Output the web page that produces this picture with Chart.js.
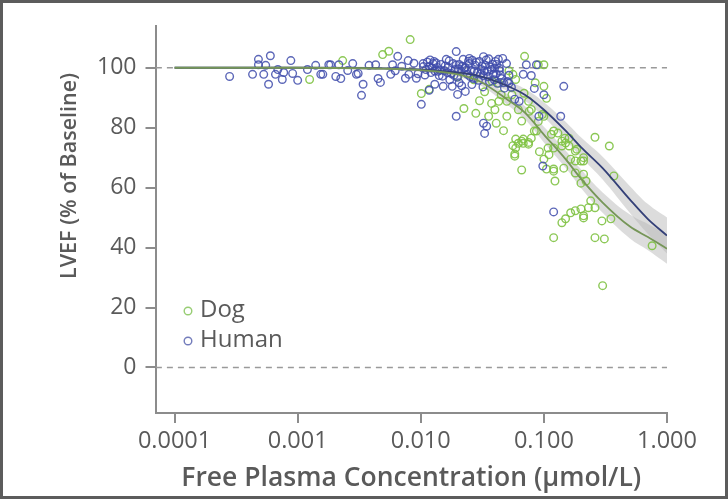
<!DOCTYPE html>
<html>
<head>
<meta charset="utf-8">
<script src="https://cdn.jsdelivr.net/npm/chart.js@4.4.1/dist/chart.umd.min.js"></script>
<style>
  html, body { margin: 0; padding: 0; background: #fff; }
  #frame { width: 728px; height: 499px; box-sizing: border-box; border: 3px solid #5c5c5c; background: #fff; }
  #frame canvas { display: block; }
</style>
</head>
<body>
<div id="frame"><canvas id="lvefChart" width="722" height="493"></canvas></div>
<script>
// Concentration (µmol/L) and LVEF (% of baseline) for each observation
const humanConc = [
  0.00028, 0.00048, 0.0006, 0.00048, 0.00055, 0.00043, 0.00053, 0.00058, 0.00069, 0.00066,
  0.00077, 0.00075, 0.00088, 0.00091, 0.0010, 0.0012, 0.0014, 0.00154, 0.00179, 0.0016,
  0.00185, 0.00204, 0.00216, 0.00224, 0.00255, 0.0028, 0.0030, 0.0031, 0.0034, 0.0033,
  0.0038, 0.0043, 0.0045, 0.0047, 0.0057, 0.0059, 0.0065, 0.0079, 0.0080, 0.0062,
  0.0070, 0.0075, 0.0088, 0.0095, 0.0092, 0.0105, 0.0101, 0.0117, 0.0126, 0.0138,
  0.0194, 0.0248, 0.0323, 0.013, 0.0152, 0.018, 0.0199, 0.023, 0.0194, 0.0323,
  0.0343, 0.033, 0.01045, 0.0110, 0.0117, 0.0121, 0.0128, 0.0136, 0.0141, 0.0146,
  0.0155, 0.0161, 0.0167, 0.0177, 0.0183, 0.0190, 0.0198, 0.0205, 0.0213, 0.0221,
  0.0230, 0.0239, 0.0248, 0.0257, 0.0267, 0.0277, 0.0288, 0.0299, 0.0310, 0.0322,
  0.0334, 0.0347, 0.0361, 0.0374, 0.0389, 0.0404, 0.0419, 0.0435, 0.0452, 0.0478,
  0.0506, 0.0545, 0.0150, 0.0172, 0.0205, 0.0226, 0.0262, 0.0294, 0.0315, 0.0356,
  0.0383, 0.0410, 0.0130, 0.0119, 0.0427, 0.0463, 0.0497, 0.0412, 0.0435, 0.072,
  0.087, 0.068, 0.079, 0.052, 0.0836, 0.145, 0.100, 0.058, 0.063, 0.091,
  0.137, 0.098, 0.120,
  0.0108, 0.0113, 0.0124, 0.0133, 0.0143, 0.0158, 0.0164, 0.0170, 0.0186, 0.0194,
  0.0202, 0.0217, 0.0235, 0.0244, 0.0252, 0.0272, 0.0283, 0.0305, 0.0328, 0.0340,
  0.0352, 0.0368, 0.0396, 0.0398, 0.0443, 0.0470, 0.0520, 0.0260, 0.0320, 0.0215
];
const humanLvef = [
  97.1, 102.8, 104, 101, 100.8, 97.8, 97.8, 94.5, 99.4, 97.8,
  98.4, 96.1, 102.4, 98.1, 95.8, 99.4, 100.8, 97.8, 101, 97.8,
  101, 97.1, 101, 96.4, 99.1, 101.4, 97.8, 98.1, 94.5, 90.8,
  100.8, 101, 96.4, 95.1, 97.8, 101, 103.8, 102.4, 97.8, 99,
  100.5, 96.5, 101.5, 98, 96.5, 100.4, 87.8, 92.5, 101.4, 98.8,
  105.4, 103.1, 103.7, 94.5, 93.8, 93.8, 91.1, 92.1, 83.8, 81.5,
  80.5, 78.1, 101.4, 99.4, 100.4, 98.4, 102.1, 100.1, 97.4, 101.1,
  99.1, 102.8, 100.1, 98.1, 101.4, 99.4, 96.8, 101.1, 98.8, 102.8,
  100.1, 97.8, 101.4, 99.1, 96.4, 100.8, 98.4, 102.1, 99.4, 97.4,
  100.8, 98.8, 95.4, 99.4, 97.8, 102.1, 94.8, 99.1, 96.4, 93.2,
  95.4, 93.5, 97.2, 96, 95, 99.8, 102.5, 95.8, 100.6, 103,
  101.2, 98, 98.9, 102.6, 102.8, 103.1, 101.4, 101.1, 99.8, 101,
  101, 97.8, 97.4, 94.8, 93.1, 93.8, 91, 89.5, 88.8, 83.8,
  83.8, 67.2, 51.9,
  97.6, 101.9, 99.9, 101.6, 99.2, 100.6, 98.4, 102.3, 97.5, 100.9,
  99.6, 100.5, 99.2, 102.2, 97.1, 98.9, 101.8, 97.9, 99.0, 102.6,
  97.0, 100.2, 96.0, 99.9, 97.6, 95.0, 97.5, 94.4, 93.6, 94.0
];

const dogConc = [
  0.00125, 0.00232, 0.0049, 0.0055, 0.0082, 0.0101, 0.0117, 0.0224, 0.028, 0.0356,
  0.0376, 0.020, 0.027, 0.033, 0.045, 0.038, 0.0697, 0.100, 0.056, 0.059,
  0.100, 0.043, 0.079, 0.100, 0.050, 0.041, 0.066, 0.087, 0.059, 0.068,
  0.079, 0.115, 0.130, 0.140, 0.160, 0.075, 0.056, 0.062, 0.068, 0.075,
  0.058, 0.066, 0.100, 0.105, 0.120, 0.123, 0.145, 0.120, 0.140, 0.150,
  0.165, 0.200, 0.180, 0.140, 0.150, 0.165, 0.180, 0.200, 0.210, 0.230,
  0.120, 0.260, 0.340, 0.180, 0.210, 0.370, 0.210, 0.220, 0.200, 0.240,
  0.260, 0.210, 0.296, 0.350, 0.260, 0.310, 0.757, 0.300, 0.108, 0.120,
  0.180, 0.090, 0.105, 0.076, 0.097, 0.090, 0.148, 0.160, 0.055, 0.043,
  0.050, 0.075, 0.0836, 0.120, 0.066, 0.059, 0.058, 0.185, 0.210,
  0.030, 0.040, 0.047, 0.062, 0.069, 0.085, 0.052, 0.092, 0.110
];
const dogLvef = [
  96.1, 102.4, 104.4, 105.5, 109.4, 91.4, 92.8, 86.4, 84.8, 83.8,
  88.1, 97, 96, 92, 91, 95.5, 103.8, 101, 97.8, 96.1,
  93.8, 88.8, 86.1, 83.8, 83.8, 81.5, 82.2, 78.9, 76.2, 76.2,
  76.5, 77.8, 78.2, 75.5, 76.5, 74.5, 74, 74.8, 74.8, 75.1,
  70.5, 65.9, 69.5, 66.2, 66.2, 62.2, 66.5, 73.2, 73.9, 74.9,
  69.5, 68.9, 64.9, 48.3, 49.6, 51.6, 52.3, 52.9, 50.6, 53.3,
  43.3, 76.8, 73.9, 72.2, 68.9, 63.9, 64.5, 62.2, 61.5, 55.6,
  53.3, 49.9, 48.9, 49.6, 43.3, 42.9, 40.6, 27.3, 73.2, 65.5,
  68.9, 101, 89.8, 85.5, 84.4, 82.1, 76.5, 73.9, 91, 94.8,
  88.8, 88.8, 78.9, 78.9, 75.5, 73.2, 71.2, 72.8, 70,
  89, 86, 79, 86, 91.5, 95, 99, 72, 71
];

// Fitted concentration-response curves with their confidence bands
const fitConc  = [0.0001, 0.001, 0.005, 0.01, 0.02, 0.03, 0.05, 0.07, 0.1, 0.15, 0.2, 0.3, 0.5, 0.7, 1.0];
const humanFit = [100, 100, 99.8, 99.4, 98.4, 97.2, 94, 91, 86, 79, 73.5, 66.5, 56, 49.5, 44];
const humanHi  = [100.3, 100.3, 100.2, 99.9, 99.2, 98.3, 95.6, 93, 88.5, 82, 76.8, 70.3, 60.5, 54.5, 50];
const humanLo  = [99.7, 99.7, 99.4, 98.9, 97.6, 96.1, 92.4, 89, 83.5, 76, 70.2, 62.7, 51.5, 44.5, 38];
const dogFit   = [100, 100, 99.7, 99.2, 97.8, 95.5, 89.5, 85, 77.7, 69.5, 63, 55, 47, 43.5, 39.6];
const dogHi    = [100.3, 100.3, 100.1, 99.8, 98.7, 96.7, 91.3, 87.2, 80.3, 72.4, 66.1, 58.4, 51, 47.9, 44.6];
const dogLo    = [99.7, 99.7, 99.3, 98.6, 96.9, 94.3, 87.7, 82.8, 75.1, 66.6, 59.9, 51.6, 43, 39.1, 34.6];

// Axes
const xMin = 0.0000705;
const xMax = 1.0;
const xTicks = [0.0001, 0.001, 0.01, 0.1, 1];
const xTickLabels = ['0.0001', '0.001', '0.010', '0.100', '1.000'];
const yTicks = [0, 20, 40, 60, 80, 100];
const refLevels = [100, 0];

const FONT = '"Open Sans", "Noto Sans", sans-serif';
const TEXT = '#5a5a5a';
const AXIS = '#8c8c8c';
const DOG = 'rgba(128, 194, 68, 0.9)';
const HUMAN = 'rgba(64, 76, 172, 0.85)';

function pts(xs, ys) {
    return xs.map((x, i) => ({ x: x, y: ys[i] }));
}

function band(hi, lo) {
    return [
        { data: pts(fitConc, hi), showLine: true, pointRadius: 0, borderWidth: 0,
          fill: '+1', backgroundColor: 'rgba(185, 185, 185, 0.5)', tension: 0.4, order: 6 },
        { data: pts(fitConc, lo), showLine: true, pointRadius: 0, borderWidth: 0,
          fill: false, tension: 0.4, order: 6 }
    ];
}

function fitLine(ys, color) {
    return { data: pts(fitConc, ys), showLine: true, pointRadius: 0, borderWidth: 1.8,
             borderColor: color, fill: false, cubicInterpolationMode: 'monotone', order: 1 };
}

const refDatasets = refLevels.map(level => ({
    data: [{ x: xMin, y: level }, { x: xMax, y: level }],
    showLine: true, pointRadius: 0, borderWidth: 1.6, borderColor: '#9a9a9a',
    borderDash: [6, 5], fill: false, order: 7
}));

// Legend placed inside the plot, lower left
const insetLegend = {
    id: 'insetLegend',
    afterDraw(chart) {
        const ctx = chart.ctx;
        const items = [['Dog', 'rgba(140, 200, 100, 0.9)'], ['Human', 'rgba(100, 110, 180, 0.9)']];
        ctx.save();
        ctx.font = '24px ' + FONT;
        ctx.textBaseline = 'middle';
        items.forEach((it, i) => {
            const y = 307 + i * 30;
            ctx.beginPath();
            ctx.arc(185, y + 1, 3.8, 0, Math.PI * 2);
            ctx.strokeStyle = it[1];
            ctx.lineWidth = 1.4;
            ctx.stroke();
            ctx.fillStyle = TEXT;
            ctx.fillText(it[0], 197, y);
        });
        ctx.restore();
    }
};

// Rotated y-axis title
const yTitle = {
    id: 'yTitle',
    afterDraw(chart) {
        const ctx = chart.ctx;
        ctx.save();
        ctx.translate(67, 173);
        ctx.rotate(-Math.PI / 2);
        ctx.font = '600 21.5px ' + FONT;
        ctx.fillStyle = TEXT;
        ctx.textAlign = 'center';
        ctx.textBaseline = 'middle';
        ctx.fillText('LVEF (% of Baseline)', 0, 0);
        ctx.restore();
    }
};

const ctx = document.getElementById('lvefChart').getContext('2d');
new Chart(ctx, {
    type: 'scatter',
    data: {
        datasets: [
            ...refDatasets,
            ...band(humanHi, humanLo),
            ...band(dogHi, dogLo),
            { label: 'Dog', data: pts(dogConc, dogLvef), pointRadius: 3.8, pointBorderWidth: 1.4,
              borderColor: DOG, backgroundColor: 'rgba(0,0,0,0)', order: 4 },
            { label: 'Human', data: pts(humanConc, humanLvef), pointRadius: 3.8, pointBorderWidth: 1.4,
              borderColor: HUMAN, backgroundColor: 'rgba(0,0,0,0)', order: 3 },
            fitLine(dogFit, 'rgb(118, 150, 88)'),
            fitLine(humanFit, 'rgb(52, 64, 120)')
        ]
    },
    options: {
        responsive: false,
        animation: false,
        layout: { padding: { top: 21, right: 58, bottom: 0, left: 0 } },
        plugins: {
            legend: { display: false },
            tooltip: { enabled: false }
        },
        scales: {
            x: {
                type: 'logarithmic',
                min: xMin,
                max: xMax,
                afterBuildTicks: scale => { scale.ticks = xTicks.map(v => ({ value: v })); },
                afterFit: scale => { scale.height = 83; },
                ticks: {
                    autoSkip: false, maxRotation: 0, padding: 4,
                    color: TEXT, font: { family: FONT, size: 23.5 },
                    callback: (value, index) => xTickLabels[index]
                },
                grid: { drawOnChartArea: false, drawTicks: true, tickLength: 10, color: AXIS, lineWidth: 2 },
                border: { display: true, color: AXIS, width: 2 },
                title: {
                    display: true, text: 'Free Plasma Concentration (µmol/L)',
                    color: TEXT, font: { family: FONT, size: 26.5, weight: '600' },
                    padding: { top: 0, bottom: 2 }
                }
            },
            y: {
                min: -15.2,
                max: 114,
                afterBuildTicks: scale => { scale.ticks = yTicks.map(v => ({ value: v })); },
                afterFit: scale => { scale.width = 152.5; },
                ticks: { padding: 9, color: TEXT, font: { family: FONT, size: 23 } },
                grid: { drawOnChartArea: false, drawTicks: true, tickLength: 10, color: AXIS, lineWidth: 2 },
                border: { display: true, color: AXIS, width: 2 }
            }
        }
    },
    plugins: [insetLegend, yTitle]
});
</script>
</body>
</html>
